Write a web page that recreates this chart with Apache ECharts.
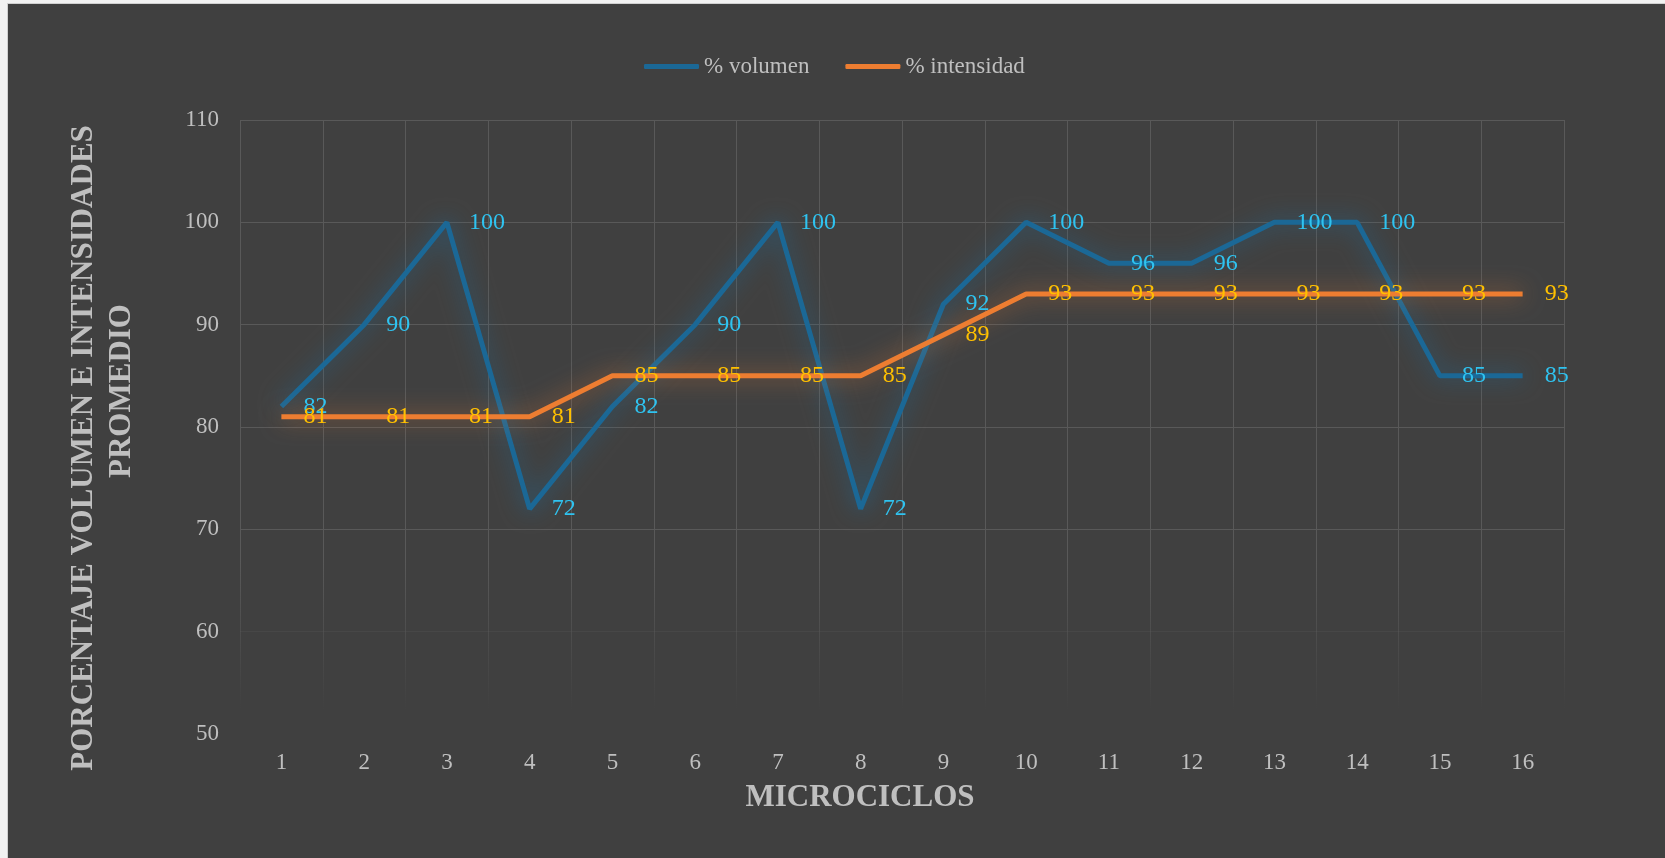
<!DOCTYPE html>
<html>
<head>
<meta charset="utf-8">
<title>Microciclos</title>
<script src="https://cdn.jsdelivr.net/npm/echarts@6/dist/echarts.min.js"></script>
<style>
  html, body { margin: 0; padding: 0; background: #404040; }
  #main { width: 1665px; height: 858px; }
</style>
</head>
<body>
<div id="main"></div>
<script>
// datos
var microciclos = ['1', '2', '3', '4', '5', '6', '7', '8', '9', '10', '11', '12', '13', '14', '15', '16'];
var volumen = [82, 90, 100, 72, 82, 90, 100, 72, 92, 100, 96, 96, 100, 100, 85, 85];
var intensidad = [81, 81, 81, 81, 85, 85, 85, 85, 89, 93, 93, 93, 93, 93, 93, 93];
var nombres = ['% volumen', '% intensidad'];
var colores = ['#1b6896', '#ed7d31'];

var fuente = '"Liberation Serif", "Times New Roman", serif';
var gris = '#bfbfbf';

var chart = echarts.init(document.getElementById('main'));

// linea con resplandor y etiqueta a la derecha
function serie(name, data, color, glow, labelColor){
  return {
    name: name,
    type: 'line',
    data: data,
    symbol: 'circle',
    symbolSize: 0,
    showSymbol: true,
    itemStyle: { color: color },
    lineStyle: {
      color: color,
      width: 5,
      shadowColor: glow,
      shadowBlur: 22
    },
    label: {
      show: true,
      position: 'right',
      distance: 22,
      color: labelColor,
      fontSize: 24,
      fontFamily: fuente
    },
    emphasis: { disabled: true },
    animation: false
  };
}

var opt = {
  backgroundColor: '#404040',
  legend: {
    left: 639,
    top: 50,
    itemWidth: 55,
    itemHeight: 5,
    itemGap: 36,
    icon: 'roundRect',
    textStyle: { color: gris, fontSize: 23, fontFamily: fuente },
    data: [
      { name: nombres[0], itemStyle: { color: colores[0], opacity: 1 } },
      { name: nombres[1], itemStyle: { color: colores[1], opacity: 1 } }
    ]
  },
  grid: { left: 240, right: 101, top: 120, bottom: 124 },
  xAxis: {
    type: 'category',
    data: microciclos,
    boundaryGap: true,
    axisLine: { show: false },
    axisTick: { show: false },
    axisLabel: { color: gris, fontSize: 23, fontFamily: fuente, margin: 17 },
    splitLine: {
      show: true,
      lineStyle: {
        width: 1,
        color: new echarts.graphic.LinearGradient(0, 560, 0, 710, [
          { offset: 0, color: '#595959' },
          { offset: 1, color: 'rgba(89,89,89,0)' }
        ], true)
      }
    }
  },
  yAxis: {
    type: 'value',
    min: 50,
    max: 110,
    interval: 10,
    axisLine: { show: false },
    axisTick: { show: false },
    axisLabel: { color: gris, fontSize: 23, fontFamily: fuente, margin: 21 },
    splitLine: {
      lineStyle: {
        width: 1,
        color: ['rgba(89,89,89,0)', 'rgba(89,89,89,0.3)', '#595959', '#595959', '#595959', '#595959', '#595959']
      }
    }
  },
  graphic: [
    { type: 'rect', shape: { x: 0, y: 0, width: 1665, height: 4 }, style: { fill: '#f2f2f2' }, silent: true },
    { type: 'rect', shape: { x: 0, y: 0, width: 8, height: 858 }, style: { fill: '#f2f2f2' }, silent: true },
    { type: 'rect', shape: { x: 7, y: 3, width: 1665, height: 1 }, style: { fill: '#d0d0d0' }, silent: true },
    { type: 'rect', shape: { x: 7, y: 3, width: 1, height: 858 }, style: { fill: '#d0d0d0' }, silent: true },
    {
      type: 'text', x: 84, y: 448, rotation: Math.PI / 2,
      style: { text: 'PORCENTAJE VOLUMEN E INTENSIDADES', fill: gris, font: 'bold 31px ' + fuente, align: 'center', verticalAlign: 'middle' }
    },
    {
      type: 'text', x: 122, y: 391, rotation: Math.PI / 2,
      style: { text: 'PROMEDIO', fill: gris, font: 'bold 31px ' + fuente, align: 'center', verticalAlign: 'middle' }
    },
    {
      type: 'text', x: 860, y: 798,
      style: { text: 'MICROCICLOS', fill: gris, font: 'bold 31px ' + fuente, align: 'center', verticalAlign: 'middle' }
    }
  ],
  series: [
    serie(nombres[0], volumen, colores[0], 'rgba(27,110,160,0.8)', '#2fc3f0'),
    serie(nombres[1], intensidad, colores[1], 'rgba(237,125,49,0.65)', '#ffc000')
  ]
};

chart.setOption(opt);
</script>
</body>
</html>
